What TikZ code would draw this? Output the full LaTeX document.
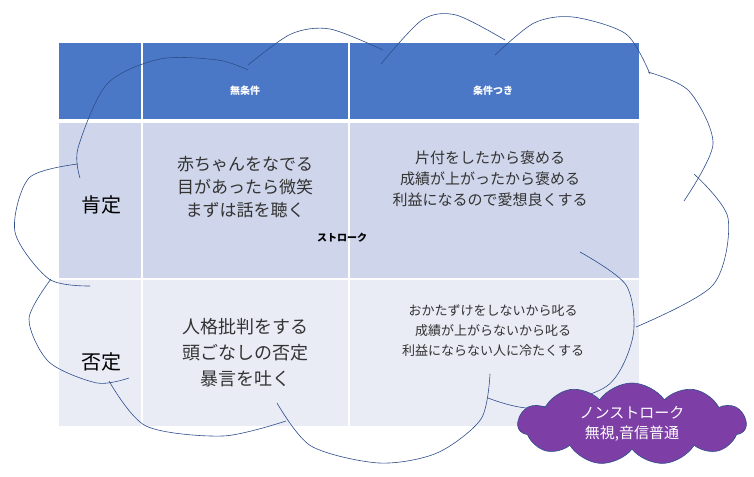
\documentclass[tikz,border=0pt]{standalone}
\usepackage{fontspec}
\setmainfont{Noto Sans CJK JP}
\usetikzlibrary{shapes.symbols}
\definecolor{hdr}{HTML}{4A78C6}
\definecolor{rowa}{HTML}{CFD5EA}
\definecolor{rowb}{HTML}{E9EBF5}
\definecolor{cl}{HTML}{2F4E8C}
\definecolor{purp}{HTML}{7D3FA6}
\tikzset{cell/.style={fill=#1,draw=white,line width=1.2pt},
 cloudarc/.style={draw=cl,line width=0.6pt},
 txt/.style={align=center,inner sep=0pt,font=\fontsize{#1}{#1}\selectfont}}
\begin{document}
\begin{tikzpicture}[x=1pt,y=-1pt]
\useasboundingbox[fill=white] (0,0) rectangle (754,476);
\fill[cell=hdr] (58,42) rectangle (142,120);
\fill[cell=hdr] (142,42) rectangle (349,120);
\fill[cell=hdr] (349,42) rectangle (640,120);
\fill[cell=rowa] (58,122) rectangle (142,279);
\fill[cell=rowa] (142,122) rectangle (349,279);
\fill[cell=rowa] (349,122) rectangle (640,279);
\fill[cell=rowb] (58,279) rectangle (142,427);
\fill[cell=rowb] (142,279) rectangle (349,427);
\fill[cell=rowb] (349,279) rectangle (640,427);
\node[txt=20,text=white,font=\bfseries] (h1) at (245,91) {無条件};
\node[txt=20,text=white,font=\bfseries] (h2) at (493,91) {条件つき};
\node[txt=20] (r1) at (101,205) {肯定};
\node[txt=20] (r2) at (101,362) {否定};
\node[txt=17,text=black!80] (c11) at (245,187) {赤ちゃんをなでる\\[6pt]目があったら微笑\\[6pt]まずは話を聴く};
\node[txt=15,text=black!80] (c12) at (490,179) {片付をしたから褒める\\[6pt]成績が上がったから褒める\\[6pt]利益になるので愛想良くする};
\node[txt=18,text=black!80] (c21) at (245,353) {人格批判をする\\[8pt]頭ごなしの否定\\[8pt]暴言を吐く};
\node[txt=13,text=black!80] (c22) at (493,331) {おかたずけをしないから叱る\\[7pt]成績が上がらないから叱る\\[7pt]利益にならない人に冷たくする};
\node[txt=30,font=\bfseries] (st) at (342,238) {ストローク};
% big cloud arcs
\draw[cloudarc] plot[smooth] coordinates {(80,178)(78,148)(107,84)(160,59)(218,60)(248,70)};
\draw[cloudarc] plot[smooth] coordinates {(248,65)(291,34)(330,29)(383,50)};
\draw[cloudarc] plot[smooth] coordinates {(381,64)(422,20)(456,15)(505,40)};
\draw[cloudarc] plot[smooth] coordinates {(495,55)(534,23)(573,17)(626,34)(650,74)};
\draw[cloudarc] plot[smooth] coordinates {(648,72)(689,91)(713,144)(684,201)};
\draw[cloudarc] plot[smooth] coordinates {(694,174)(728,218)(713,285)(636,327)};
\draw[cloudarc] plot[smooth] coordinates {(580,252)(626,285)(633,336)(607,386)(534,408)(488,398)};
\draw[cloudarc] plot[smooth] coordinates {(490,374)(481,419)(437,453)(379,463)(311,446)(277,403)};
\draw[cloudarc] plot[smooth] coordinates {(286,421)(223,436)(146,426)(109,381)};
\draw[cloudarc] plot[smooth] coordinates {(129,378)(97,383)(49,362)(29,319)(51,279)};
\draw[cloudarc] plot[smooth] coordinates {(90,286)(49,279)(15,232)(29,178)(78,164)};
% small cloud
\node[cloud,cloud puffs=11,cloud puff arc=110,aspect=2.8,fill=purp,draw=cl,line width=0.6pt,
 minimum width=228,minimum height=82,inner sep=0pt] (nc) at (632,424) {};
\node[txt=15,text=white] (nt) at (632,424) {ノンストローク\\[5pt]無視,音信普通};
\end{tikzpicture}
\end{document}
